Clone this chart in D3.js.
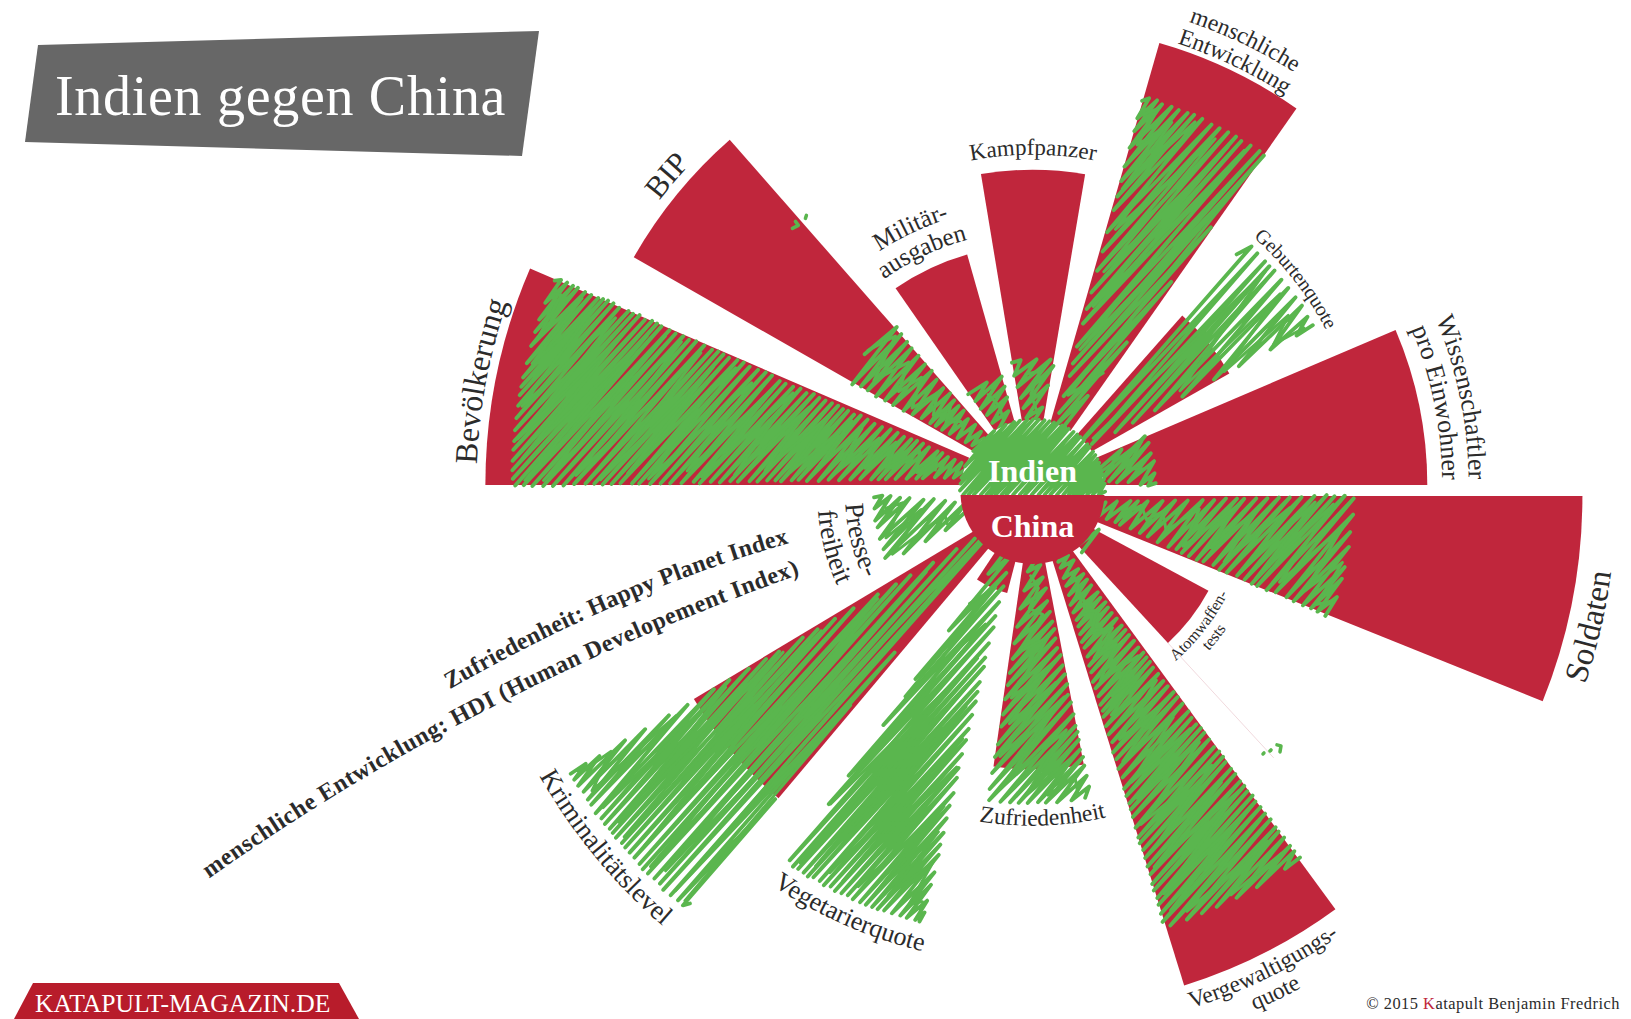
<!DOCTYPE html>
<html><head><meta charset="utf-8">
<script src="https://cdn.jsdelivr.net/npm/d3@7/dist/d3.min.js"></script>
<style>html,body{margin:0;background:#fff}svg{display:block}text{font-family:"Liberation Serif",serif}</style>
</head><body><script>
// ---- data (values on a 0-100 index)
const upperCategories = ["Bevölkerung","BIP","Militärausgaben","Kampfpanzer","menschliche Entwicklung","Geburtenquote","Wissenschaftler"];
const chinaUpper = [97.7,82,42.8,56.3,82.1,40.4,70.5];
const indiaUpper = [92.8,38,20,22.3,71.8,57.5,21.8];
const lowerCategories = ["Soldaten","Atomwaffentests","Vergewaltigungsquote","Zufriedenheit","Vegetarierquote","Kriminalitätslevel","Pressefreiheit"];
const chinaLower = [98.2,35.7,91.5,48.8,17.9,70.5,10.7];
const indiaLower = [57.1,13.5,80.4,54.6,78.5,96,28.2];
const upperLabels = [["Bevölkerung"],["BIP"],["Militär-","ausgaben"],["Kampfpanzer"],["menschliche","Entwicklung"],["Geburtenquote"],["Wissenschaftler","pro Einwohner"]];
const lowerLabels = [["Soldaten"],["Atomwaffen-","tests"],["Vergewaltigungs-","quote"],["Zufriedenheit"],["Vegetarierquote"],["Kriminalitätslevel"],["Presse-","freiheit"]];
const noteLines = ["Zufriedenheit: Happy Planet Index","menschliche Entwicklung: HDI (Human Developement Index)"];
// ---- styling, kept apart from the data
const upperLabelSize = [32,31,25,23,23.5,20,26];
const lowerLabelSize = [33,16,23.5,23.5,26,27,27];
const upperLabelTurn = [-1,1,0,0,0,1,0];
const lowerLabelTurn = [2.2,0,0.7,-0.5,-0.5,1,-2];
const upperLabelGap = [9,10,14,15,5,10,15];
const lowerLabelGap = [10,7,7,7,10,10,10];
const upperHatch = [3.4,4.2,4.4,4.4,4,4.8,4.2];
const lowerHatch = [4.2,4,3.6,3.9,3.2,3.5,4.6];
const W=1631,H=1019,RED="#c0263c",GREEN="#5ab64e",INK="#2b2b2b";
const cx=1032.5, cyU=485, cyL=496;
const r=d3.scaleLinear().domain([0,100]).range([0,560]);
const rad=d=>d*Math.PI/180;
const svg=d3.select("body").append("svg").attr("width",W).attr("height",H);
const gRed=svg.append("g"), gGreen=svg.append("g"), gC=svg.append("g"), gDisc=svg.append("g"), gText=svg.append("g");
function wobble(i){const s=Math.sin(i*127.1+13.7)*43758.5453;return s-Math.floor(s);}
let wob=1;
const line=d3.line();
function hatchPts(poly,spacing,endJit,grow){
  const th=rad(48),ux=Math.cos(th),uy=-Math.sin(th),vx=Math.sin(th),vy=Math.cos(th);
  const P=poly.map(p=>[p[0]*ux+p[1]*uy,p[0]*vx+p[1]*vy]);
  const vs=P.map(p=>p[1]);let v=d3.min(vs)+0.5;const vMax=d3.max(vs);
  const pts=[];let up=false;
  while(v<vMax){
    const xs=[];
    for(let i=0;i<P.length;i++){const a=P[i],b=P[(i+1)%P.length];
      if((a[1]<=v&&b[1]>v)||(b[1]<=v&&a[1]>v)){xs.push(a[0]+(v-a[1])/(b[1]-a[1])*(b[0]-a[0]));}}
    if(xs.length>=2){
      const lo0=d3.min(xs),hi0=d3.max(xs);
      const lo=lo0+wobble(wob++)*endJit-grow,hi=hi0-wobble(wob++)*endJit+grow;
      if(hi>lo){const u=up?hi:lo;up=!up;pts.push([u*ux+v*vx,u*uy+v*vy]);}
    }
    v+=spacing*(0.6+wobble(wob++)*0.8);
  }
  return pts;
}
function scribble(g,pts,width){
  g.append("path").attr("d",line(pts)).attr("fill","none").attr("stroke",GREEN)
    .attr("stroke-width",width).attr("stroke-linejoin","round").attr("stroke-linecap","round");
}
function wedgePoly(c,a0,a1,R){
  const pts=[];
  const r0=44;
  const n=Math.ceil((a1-a0)/1.5);
  d3.range(n+1).forEach(i=>{const a=rad(a0+(a1-a0)*i/n);pts.push([c[0]+R*Math.sin(a),c[1]-R*Math.cos(a)]);});
  const m=rad((a0+a1)/2);
  pts.push([c[0]+r0*Math.sin(m),c[1]-r0*Math.cos(m)]);
  return pts;
}
const arcGen=d3.arc();
const upperBand=d3.scaleBand().domain(upperCategories).range([4.3,175.9]).paddingInner(0.252);
const lowerBand=d3.scaleBand().domain(lowerCategories).range([2.9,174.5]).paddingInner(0.252);
function half(cats,band,china,india,labels,sizes,turns,gaps,spacing,cy,base,upper){
  cats.forEach((c,i)=>{
    let t0=band(c),t1=t0+band.bandwidth();
    if(i===0)t0=0; if(i===cats.length-1)t1=180;
    const a0=base+t0,a1=base+t1;
    gRed.append("path").attr("transform",`translate(${cx},${cy})`)
      .attr("d",arcGen({innerRadius:0,outerRadius:r(china[i]),startAngle:rad(a0),endAngle:rad(a1)}))
      .attr("fill",RED);
    const poly=wedgePoly([cx,cy],a0,a1,r(india[i]));
    // teeth: a zigzag that turns at the wedge edge
    scribble(gGreen,hatchPts(poly,spacing[i],2.5,2.5),3.8);
    // body: a sparser zigzag that stops short of the edge
    scribble(gGreen,hatchPts(poly,spacing[i]*2.6,12,-4),3);
    // label along an arc round the centre
    const mid=(a0+a1)/2+turns[i], R0=Math.max(r(china[i]),r(india[i]));
    const fs=sizes[i], gap=gaps[i], lh=fs*1.02, lines=labels[i];
    lines.forEach((txt,j)=>{
      const Rr=upper? R0+gap+(lines.length-1-j)*lh : R0+gap+fs*0.72+j*lh;
      const s=upper?rad(mid-85):rad(mid+85), e=upper?rad(mid+85):rad(mid-85);
      const id=`lab${upper?"u":"l"}${i}_${j}`;
      const pt=a=>[cx+Rr*Math.sin(a),cy-Rr*Math.cos(a)];
      const [sx,sy]=pt(s),[ex,ey]=pt(e);
      gText.append("path").attr("id",id).attr("fill","none")
        .attr("d",`M${sx},${sy}A${Rr},${Rr} 0 0 ${upper?1:0} ${ex},${ey}`);
      gText.append("text").attr("fill",INK).attr("font-size",fs)
        .append("textPath").attr("href","#"+id).attr("startOffset","50%").attr("text-anchor","middle").text(txt);
    });
  });
}
half(upperCategories,upperBand,chinaUpper,indiaUpper,upperLabels,upperLabelSize,upperLabelTurn,upperLabelGap,upperHatch,cyU,-90,true);
half(lowerCategories,lowerBand,chinaLower,indiaLower,lowerLabels,lowerLabelSize,lowerLabelTurn,lowerLabelGap,lowerHatch,cyL,90,false);
// stray scribble ends that the reference shows far out on two wedges
const polar=(cy,a,R)=>[cx+R*Math.sin(rad(a)),cy-R*Math.cos(rad(a))];
const aAtom=90+lowerBand("Atomwaffentests")+lowerBand.bandwidth();
gGreen.append("path").attr("d",line([polar(cyL,aAtom,r(chinaLower[1])),polar(cyL,aAtom,356)]))
  .attr("stroke","#e9c9cf").attr("stroke-width",0.7).attr("fill","none");
function strayMark(p){gGreen.append("path").attr("d",line(p)).attr("stroke",GREEN).attr("stroke-width",3.5)
  .attr("stroke-linecap","round").attr("stroke-linejoin","round").attr("fill","none");}
const ap=polar(cyL,aAtom,352);
strayMark([[ap[0]+6,ap[1]-10],[ap[0]+10,ap[1]-9],[ap[0]+9,ap[1]-3]]);
strayMark([[ap[0]-1,ap[1]-4],[ap[0],ap[1]-5]]);
strayMark([[ap[0]-8,ap[1]-1],[ap[0]-7,ap[1]-2]]);
const aBip=-90+upperBand("BIP")+upperBand.bandwidth();
const bp=polar(cyU,aBip,352);
strayMark([[bp[0]-8,bp[1]+8],[bp[0]-2,bp[1]+5],[bp[0]-5,bp[1]+1]]);
strayMark([[bp[0]+5,bp[1]-2],[bp[0]+6,bp[1]-5]]);
// centre disc
const cyC=492,rC=72;
const defs=svg.append("defs");
defs.append("clipPath").attr("id","cT").append("rect").attr("x",cx-90).attr("y",cyC-90).attr("width",180).attr("height",93);
defs.append("clipPath").attr("id","cB").append("rect").attr("x",cx-90).attr("y",cyC+3).attr("width",180).attr("height",90);
gC.append("circle").attr("cx",cx).attr("cy",cyC).attr("r",rC).attr("fill","#fff").attr("clip-path","url(#cT)");
gC.append("circle").attr("cx",cx).attr("cy",cyC).attr("r",rC).attr("fill",RED).attr("clip-path","url(#cB)");
const discPts=d3.range(0,181,6).map(a=>[cx-rC*Math.cos(rad(a)),cyC-rC*Math.sin(rad(a))]);
gDisc.attr("clip-path","url(#cT)");
scribble(gDisc,hatchPts([[cx-rC,cyC+2],...discPts,[cx+rC,cyC+2]],2.1,0,1),3.6);
gText.append("text").attr("x",cx).attr("y",482).attr("text-anchor","middle").attr("font-size",32).attr("font-weight","bold").attr("fill","#fff").text("Indien");
gText.append("text").attr("x",cx).attr("y",537).attr("text-anchor","middle").attr("font-size",32).attr("font-weight","bold").attr("fill","#fff").text("China");
// notes
[["n0","M440,695Q620,590 800,540",noteLines[0],"50%",0.3],["n1","M190,892Q470,690 812,570",noteLines[1],"50.8%",0.55]].forEach(([id,d,t,o,ls])=>{
  gText.append("path").attr("id",id).attr("d",d).attr("fill","none");
  gText.append("text").attr("font-size",24).attr("letter-spacing",ls).attr("font-weight","bold").attr("fill",INK)
    .append("textPath").attr("href","#"+id).attr("startOffset",o).attr("text-anchor","middle").text(t);
});
// title
const gF=svg.append("g");
gF.append("path").attr("d",line([[38,45],[539,31],[522,156],[25,142]])+"Z").attr("fill","#676767");
gF.append("text").attr("x",55).attr("y",115).attr("font-size",56).attr("letter-spacing",0.7).attr("fill","#fff").text("Indien gegen China");
gF.append("path").attr("d",line([[33,983],[339,983],[359,1019],[14,1019]])+"Z").attr("fill","#b81c2b");
gF.append("text").attr("x",35).attr("y",1012).attr("font-size",25.6).attr("fill","#fff").text("KATAPULT-MAGAZIN.DE");
const cp=gF.append("text").attr("x",1620).attr("y",1009).attr("text-anchor","end").attr("font-size",16.4).attr("letter-spacing",0.5).attr("fill",INK);
cp.append("tspan").text("© 2015 ");cp.append("tspan").attr("fill",RED).text("K");cp.append("tspan").text("atapult Benjamin Fredrich");
</script></body></html>
